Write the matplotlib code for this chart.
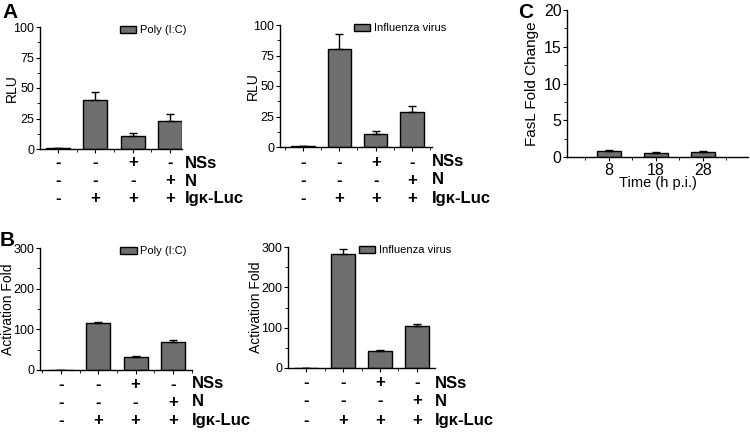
import matplotlib.pyplot as plt
from matplotlib.ticker import MultipleLocator, FixedLocator

plt.rcParams['font.family'] = ['Liberation Sans', 'DejaVu Sans']

# data
rlu_poly = [0.5, 40, 11, 23]
rlu_poly_err = [0, 7, 2, 5.5]
rlu_flu = [0.5, 80, 11, 29]
rlu_flu_err = [0, 13, 2, 5]
act_poly = [1, 115, 33, 68]
act_poly_err = [0, 2, 1, 5]
act_flu = [1, 283, 42, 105]
act_flu_err = [0, 12, 2, 4]
fasl_times = ['8', '18', '28']
fasl = [0.8, 0.5, 0.65]
fasl_err = [0.2, 0.15, 0.2]
nss_row = ['-', '-', '+', '-']
n_row = ['-', '-', '-', '+']
igk_row = ['-', '+', '+', '+']
row_names = ['NSs', 'N', 'Ig\u03ba-Luc']

bar_color = '#6f6f6f'
W, H = 750, 432

fig = plt.figure(figsize=(7.5, 4.32), dpi=100)


def add_ax(l, t, r, b):
    # pixel box -> figure fraction
    return fig.add_axes([l / W, 1 - b / H, (r - l) / W, (b - t) / H])


def style(ax, lab_px, left_px, width_px):
    for s in ['top', 'right']:
        ax.spines[s].set_visible(False)
    for s in ['left', 'bottom']:
        ax.spines[s].set_linewidth(1.0)
    ax.tick_params(which='major', length=3, width=0.8, labelsize=9, pad=1)
    ax.tick_params(which='minor', length=2, width=0.6)
    # lab_px = right edge of the rotated y label
    ax.yaxis.set_label_coords((lab_px - left_px) / width_px, 0.5)


def bar_panel(ax, box, vals, errs, xlim, ymax, ystep, legend, ylabel, lab_px,
              rows_dy, name_x, leg_x):
    x = list(range(len(vals)))
    ax.bar(x, vals, width=0.64, color=bar_color, edgecolor='black', linewidth=1.0,
           label=legend, zorder=2)
    ax.errorbar(x, vals, yerr=[[0] * len(vals), errs], fmt='none', ecolor='black',
                elinewidth=1.0, capsize=3, capthick=1.0, zorder=3)
    ax.set_xlim(*xlim)
    ax.set_ylim(0, ymax)
    ax.yaxis.set_major_locator(MultipleLocator(ystep))
    ax.yaxis.set_minor_locator(MultipleLocator(ystep / 2))
    ax.xaxis.set_major_locator(FixedLocator(x))
    ax.xaxis.set_minor_locator(FixedLocator([i + 0.5 for i in range(-1, len(vals))]))
    ax.set_xticklabels([])
    ax.set_ylabel(ylabel, fontsize=10)
    style(ax, lab_px, box[0], box[2] - box[0])
    for row, dy, nm in zip([nss_row, n_row, igk_row], rows_dy, row_names):
        for xi, s in zip(x, row):
            ax.annotate(s, xy=(xi, 0), xycoords=('data', 'axes fraction'),
                        xytext=(0, -dy), textcoords='offset pixels',
                        ha='center', va='center', fontsize=12, fontweight='bold')
        ax.annotate(nm, xy=(name_x, 0), xycoords=('data', 'axes fraction'),
                    xytext=(0, -dy), textcoords='offset pixels',
                    ha='left', va='center', fontsize=12, fontweight='bold')
    ax.legend(loc='upper left', bbox_to_anchor=(leg_x, 1.05), frameon=False,
              fontsize=8, handlelength=1.5, handleheight=0.6, handletextpad=0.3,
              borderaxespad=0)


# A left
box = (40, 27, 182, 149)
ax1 = add_ax(*box)
bar_panel(ax1, box, rlu_poly, rlu_poly_err, (-0.48, 3.32), 100, 25, 'Poly (I:C)',
          'RLU', 19, [14, 32, 50], 3.4, 0.53)

# A right
box = (280, 25, 432, 147)
ax2 = add_ax(*box)
bar_panel(ax2, box, rlu_flu, rlu_flu_err, (-0.63, 3.55), 100, 25, 'Influenza virus',
          'RLU', 260, [15, 33, 51], 3.55, 0.455)

# B left
box = (40, 248, 192, 370)
ax3 = add_ax(*box)
bar_panel(ax3, box, act_poly, act_poly_err, (-0.56, 3.51), 300, 100, 'Poly (I:C)',
          'Activation Fold', 15, [14, 32, 50], 3.5, 0.5)

# B right
box = (288, 247, 435, 368)
ax4 = add_ax(*box)
bar_panel(ax4, box, act_flu, act_flu_err, (-0.49, 3.49), 300, 100, 'Influenza virus',
          'Activation Fold', 263, [15, 33, 52], 3.49, 0.45)

# C
box = (567, 10, 748, 157)
ax5 = add_ax(*box)
xc = list(range(len(fasl)))
ax5.bar(xc, fasl, width=0.5, color=bar_color, edgecolor='black', linewidth=1.0, zorder=2)
ax5.errorbar(xc, fasl, yerr=[[0] * len(fasl), fasl_err], fmt='none', ecolor='black',
             elinewidth=1.0, capsize=3, capthick=1.0, zorder=3)
ax5.set_xlim(-0.89, 2.96)
ax5.set_ylim(0, 20)
ax5.yaxis.set_major_locator(MultipleLocator(5))
ax5.yaxis.set_minor_locator(MultipleLocator(2.5))
ax5.set_xticks(xc)
ax5.set_xticklabels(fasl_times)
ax5.xaxis.set_minor_locator(FixedLocator([-0.5, 0.5, 1.5, 2.5]))
ax5.set_xlabel('Time (h p.i.)', fontsize=10.5, labelpad=-1)
ax5.set_ylabel('FasL Fold Change', fontsize=11)
style(ax5, 539, box[0], box[2] - box[0])
ax5.tick_params(axis='both', which='major', labelsize=11.5)

# panel letters
fig.text(2 / W, 1 - 12 / H, 'A', fontsize=15, fontweight='bold', va='center')
fig.text(0 / W, 1 - 240 / H, 'B', fontsize=15, fontweight='bold', va='center')
fig.text(518 / W, 1 - 12 / H, 'C', fontsize=15, fontweight='bold', va='center')

fig.savefig('out.png', dpi=100)
